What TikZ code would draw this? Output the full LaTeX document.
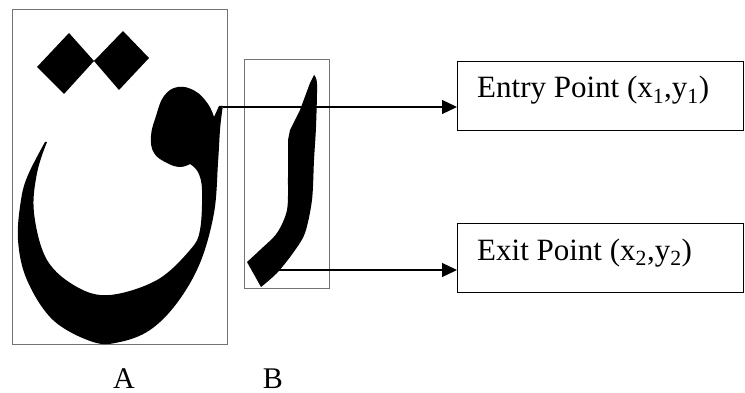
\documentclass[tikz,border=0pt]{standalone}
\usepackage{fontspec}
\setmainfont{Liberation Serif}
\usetikzlibrary{arrows.meta}
\tikzset{
  framebox/.style={draw=black!55, line width=0.9pt},
  infobox/.style={draw=black, line width=1.3pt, minimum width=286pt, minimum height=69pt, anchor=north west, inner sep=0pt},
  infotext/.style={anchor=base west, inner sep=0pt, font=\fontsize{31}{34}\selectfont},
  letterlabel/.style={anchor=base, inner sep=0pt, font=\fontsize{30}{34}\selectfont},
  pointer/.style={draw=black, line width=1.3pt, -{Triangle[length=15pt,width=14pt]}},
  glyph/.style={fill=black}
}
\begin{document}
\begin{tikzpicture}[x=1pt,y=-1pt]
\useasboundingbox (0,0) rectangle (745,393);
% frames
\node[framebox, minimum width=215pt, minimum height=335pt, anchor=north west, inner sep=0pt] (frameA) at (12,9) {};
\node[framebox, minimum width=85pt, minimum height=229pt, anchor=north west, inner sep=0pt] (frameB) at (244,59) {};
% qaf dots
\fill[glyph] (37,67) -- (69,33) -- (94,61) -- (64,94) -- cycle;
\fill[glyph] (94,61) -- (123,31) -- (149,58) -- (119,90) -- cycle;
% qaf body
\fill[glyph] plot[smooth, tension=0.6] coordinates {(45,142) (28,175) (21,200) (18,240) (27,280) (53,320) (93,342) (120,342) (150,330) (177,303) (200,263) (214,213) (218,163) (220,130) (222,112) (223,106)}
  -- (219,106) -- (214,117)
  -- plot[smooth, tension=0.7] coordinates {(214,117) (208,104) (195,91) (178,87) (164,96) (156,116) (151,136) (154,153) (167,163) (180,167) (190,164)}
  -- plot[smooth, tension=0.6] coordinates {(190,164) (198,172) (202,190) (200,230) (190,250) (157,280) (110,295) (77,287) (47,260) (34,213) (37,173) (47,142)}
  -- cycle;
% alef-like stroke
\fill[glyph] (314,75) -- plot[smooth, tension=0.5] coordinates {(314,75) (317,84) (316,127) (314,160) (312,200) (305,233) (293,253) (277,273) (261,287)}
  -- (247,262)
  -- plot[smooth, tension=0.5] coordinates {(247,262) (260,250) (277,233) (287,210) (288,177) (288,140)}
  -- (290,130) -- (300,110) -- (310,83) -- cycle;
% info boxes
\node[infobox] (entry) at (457,61) {};
\node[infobox] (exit) at (457,223) {};
\node[infotext] (entrytext) at (477,98) {Entry Point (x\textsubscript{1},y\textsubscript{1})};
\node[infotext] (exittext) at (477,260) {Exit Point (x\textsubscript{2},y\textsubscript{2})};
% connectors
\coordinate (entrypt) at (223,107);
\coordinate (exitpt) at (273,270);
\draw[pointer] (entrypt) -- (entrypt -| entry.west);
\draw[pointer] (exitpt) -- (exitpt -| exit.west);
% labels
\node[letterlabel] (labA) at (124,388) {A};
\node[letterlabel] (labB) at (273,388) {B};
\end{tikzpicture}
\end{document}
